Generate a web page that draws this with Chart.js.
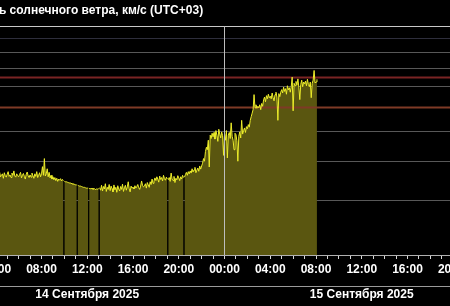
<!DOCTYPE html>
<html>
<head>
<meta charset="utf-8">
<script src="https://cdn.jsdelivr.net/npm/chart.js@4"></script>
<style>
  html, body { margin: 0; padding: 0; background: #000; overflow: hidden; }
  #wrap { position: relative; width: 450px; height: 306px; overflow: hidden; }
  #myChart { position: absolute; left: -120px; top: 0; }
</style>
</head>
<body>
<div id="wrap"><canvas id="myChart" width="700" height="306"></canvas></div>
<script>
// Скорость солнечного ветра, 5-минутные значения с 04:00 14 сентября
const startHour = 4;
const stepMinutes = 5;
const speed = [
  360, 368, 355, 364, 371, 358, 362, 366, 354, 369, 361, 357, // 04
  365, 372, 359, 363, 356, 368, 362, 374, 360, 357, 366, 361, // 05
  358, 364, 370, 355, 362, 367, 359, 352, 365, 371, 360, 356, // 06
  363, 357, 368, 361, 354, 366, 359, 372, 356, 362, 369, 358, // 07
  366, 386, 362, 410, 360, 366, 380, 358, 370, 355, 362, 352, // 08
  358, 350, 356, 348, 354, 346, 352, 349, 353, 347, 351, 348, // 09
  346, 345, 345, 344, 343, 342, 342, 341, 340, 339, 339, 338, // 10
  337, 337, 336, 335, 334, 334, 333, 332, 331, 331, 330, 329, // 11
  329, 329, 328, 328, 327, 329, 326, 328, 327, 325, 328, 326, // 12
  328, 330, 324, 336, 322, 333, 327, 340, 321, 331, 326, 338, // 13
  323, 334, 328, 320, 337, 325, 331, 319, 335, 327, 322, 333, // 14
  326, 339, 321, 330, 336, 324, 332, 345, 327, 320, 334, 329, // 15
  331, 327, 335, 329, 333, 338, 330, 326, 334, 347, 336, 332, // 16
  334, 340, 329, 343, 337, 331, 345, 338, 352, 341, 347, 355, // 17
  348, 358, 352, 344, 360, 351, 356, 347, 362, 353, 349, 357, // 18
  352, 350, 356, 346, 368, 352, 348, 359, 343, 354, 350, 361, // 19
  355, 348, 358, 352, 362, 356, 357, 364, 370, 362, 372, 366, // 20
  374, 368, 380, 371, 377, 384, 369, 376, 382, 373, 388, 379, // 21
  388, 396, 410, 402, 432, 446, 438, 470, 385, 488, 476, 495, // 22
  482, 498, 474, 505, 488, 466, 510, 492, 478, 500, 486, 420, // 23
  495, 470, 505, 412, 488, 498, 476, 535, 484, 470, 438, 495, // 00
  490, 468, 402, 484, 500, 478, 545, 492, 505, 515, 498, 520, // 01
  512, 528, 518, 545, 560, 575, 590, 660, 598, 612, 596, 605, // 02
  598, 612, 590, 618, 605, 635, 648, 626, 655, 640, 662, 645, // 03
  652, 640, 668, 645, 630, 660, 672, 648, 545, 665, 650, 672, // 04
  685, 668, 698, 676, 690, 662, 705, 684, 695, 672, 700, 752, // 05
  585, 718, 705, 728, 710, 742, 698, 636, 712, 735, 700, 725, // 06
  715, 730, 705, 740, 712, 700, 725, 645, 718, 735, 790, 720, // 07
  725, 740                                                     // 08
];
// пропуски данных (часы от 00:00 14 сентября)
const dropouts = [9.96, 11.1, 12.15, 13.03, 19.06, 20.46];
const speedTicks = [200, 300, 400, 500, 600, 700, 800, 900, 1000, 1100];
const thresholds = [600, 750];
const thresholdColors = ['#7e3a26', '#7a2424'];
const hourMarks = Array.from({ length: 49 }, (_, i) => i);
const dayCenters = [12, 36];
const dayLabels = ['14 Сентября 2025', '15 Сентября 2025'];
const midnight = 24;

const points = speed.map((v, i) => ({ x: startHour + i * stepMinutes / 60, y: v }))
    .concat(dropouts.map(h => ({ x: h, y: null })))
    .sort((a, b) => a.x - b.x);

Chart.defaults.font.family = '"Liberation Sans", Arial, sans-serif';

const thresholdSets = thresholds.map((t, i) => ({
    data: [{ x: 0, y: t }, { x: 48, y: t }],
    borderColor: thresholdColors[i],
    borderWidth: 2,
    fill: false,
    order: 3
}));

// линия между часами и датами
const separatorLine = {
    id: 'separatorLine',
    afterDraw(chart) {
        const s = chart.scales.x2;
        const c = chart.ctx;
        c.save();
        c.strokeStyle = '#9a9a9a';
        c.lineWidth = 1;
        c.beginPath();
        c.moveTo(0, s.top - 0.5);
        c.lineTo(chart.width, s.top - 0.5);
        c.stroke();
        c.restore();
    }
};

const ctx = document.getElementById('myChart').getContext('2d');
const myChart = new Chart(ctx, {
    type: 'line',
    data: {
        datasets: [
            {
                data: points,
                borderWidth: 0,
                backgroundColor: '#5a5610',
                fill: 'start',
                spanGaps: false,
                order: 4
            },
            ...thresholdSets,
            {
                data: points,
                borderColor: '#eded2a',
                borderWidth: 1,
                fill: false,
                spanGaps: false,
                order: 2
            },
            {
                data: [{ x: midnight, y: 200 }, { x: midnight, y: 1100 }],
                borderColor: '#bdbdbd',
                borderWidth: 1,
                fill: false,
                order: 1
            }
        ]
    },
    options: {
        responsive: false,
        animation: false,
        events: [],
        elements: {
            point: { radius: 0 },
            line: { tension: 0 }
        },
        layout: {
            padding: { left: 70, right: 81, top: 0, bottom: 0 }
        },
        plugins: {
            legend: { display: false },
            tooltip: { enabled: false },
            title: {
                display: true,
                text: 'Скорость солнечного ветра, км/с (UTC+03)',
                align: 'start',
                color: '#ffffff',
                font: { size: 12, weight: 'bold' },
                padding: { top: 3.6, bottom: 8 }
            }
        },
        scales: {
            x: {
                type: 'linear',
                min: 0,
                max: 48,
                position: 'bottom',
                border: { display: true, color: '#b0b0b0', width: 1 },
                grid: { drawOnChartArea: false, drawTicks: true, tickLength: 4, color: '#d8d8d8' },
                afterBuildTicks: (scale) => { scale.ticks = hourMarks.map(v => ({ value: v })); },
                afterFit: (scale) => { scale.height = 32; },
                ticks: {
                    autoSkip: false,
                    maxRotation: 0,
                    minRotation: 0,
                    padding: 3,
                    color: '#ffffff',
                    font: { size: 12, weight: 'bold' },
                    callback: (v) => v % 4 === 0 ? String(v % 24).padStart(2, '0') + ':00' : ''
                }
            },
            x2: {
                type: 'linear',
                min: 0,
                max: 48,
                position: 'bottom',
                border: { display: false },
                grid: { display: true, drawOnChartArea: false, drawTicks: false, tickLength: 0, color: 'rgba(0,0,0,0)' },
                afterBuildTicks: (scale) => { scale.ticks = dayCenters.map(v => ({ value: v })); },
                afterFit: (scale) => { scale.height = 19; },
                ticks: {
                    autoSkip: false,
                    maxRotation: 0,
                    minRotation: 0,
                    padding: 0,
                    color: '#ffffff',
                    font: { size: 12, weight: 'bold' },
                    callback: (v) => dayLabels[dayCenters.indexOf(v)]
                }
            },
            y: {
                type: 'logarithmic',
                min: 200,
                max: 1100,
                border: { display: false },
                afterBuildTicks: (scale) => { scale.ticks = speedTicks.map(v => ({ value: v })); },
                afterFit: (scale) => { scale.width = 0; },
                ticks: { display: false },
                grid: {
                    drawTicks: false,
                    lineWidth: 1,
                    color: (c) => c.tick && c.tick.value === 1100 ? '#c8c8c8'
                        : c.tick && c.tick.value === 1000 ? '#2e2e3c' : '#585858'
                }
            }
        }
    },
    plugins: [separatorLine]
});
</script>
</body>
</html>
